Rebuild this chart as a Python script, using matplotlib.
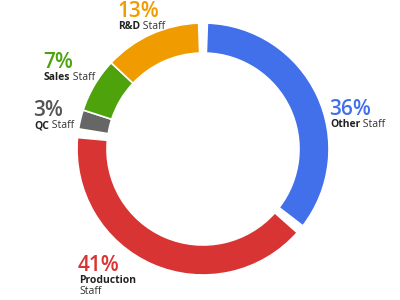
"""Staff distribution donut chart."""

import matplotlib
matplotlib.use("Agg")
import matplotlib.pyplot as plt

# data, clockwise from the top
categories = ["Other", "Production", "QC", "Sales", "R&D"]
shares = [36, 41, 3, 7, 13]
colors = ["#4170ea", "#d93434", "#666666", "#4ea30c", "#f09b00"]
pct_colors = ["#4170ea", "#d93434", "#555555", "#4ea30c", "#f09b00"]
# wider gap after these slices (the rest just get a thin white seam)
wide_gap_after = [True, True, False, False, True]

# label anchor (left x, baseline y of the percentage) in pixels
label_px = [(329, 115), (78, 271), (33, 116), (43, 68), (117, 17)]

W, H = 400, 300
CX, CY, R = 203, 149, 126
GAP_DEG = 2.0

plt.rcParams["font.family"] = ["Open Sans", "DejaVu Sans"]

fig = plt.figure(figsize=(W / 100, H / 100), dpi=100)
ax = fig.add_axes([0, 0, 1, 1])

wedges, _ = ax.pie(
    shares,
    colors=colors,
    startangle=90,
    counterclock=False,
    radius=1.0,
    wedgeprops=dict(width=30 / R, edgecolor="white", linewidth=1.2),
)
# pie() resets the limits, so set them afterwards
ax.set_xlim(-CX / R, (W - CX) / R)
ax.set_ylim(-(H - CY) / R, CY / R)
ax.axis("off")

# open up the wider gaps around the big slices
n = len(wedges)
for i, w in enumerate(wedges):
    # clockwise drawing: theta2 is the start edge, theta1 the end edge
    if wide_gap_after[i]:
        w.set_theta1(w.theta1 + GAP_DEG)
    if wide_gap_after[(i - 1) % n]:
        w.set_theta2(w.theta2 - GAP_DEG)


def px(x, y):
    return x / W, 1 - y / H


for cat, share, col, (lx, ly) in zip(categories, shares, pct_colors, label_px):
    fig.text(*px(lx, ly), f"{share}%", color=col, fontsize=15,
             fontweight="semibold", ha="left", va="baseline")
    bold = fig.text(*px(lx + 1, ly + 12), cat, color="#222222", fontsize=7.5,
                    fontweight="bold", ha="left", va="baseline")
    if cat == "Production":
        fig.text(*px(lx + 1, ly + 23), "Staff", color="#333333", fontsize=7.5,
                 ha="left", va="baseline")
    else:
        ax.annotate(" Staff", xy=(1, 0), xycoords=bold, color="#333333",
                    fontsize=7.5, ha="left", va="bottom")

fig.savefig("out.png", dpi=100)
